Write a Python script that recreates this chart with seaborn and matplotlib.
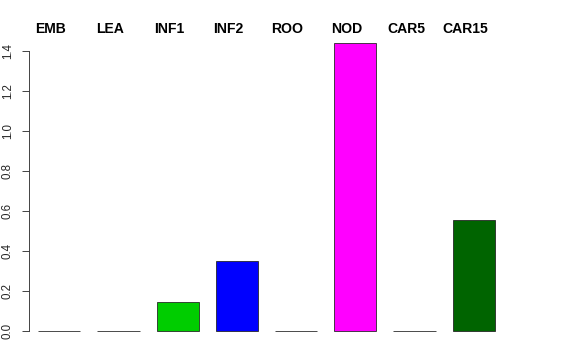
import pandas as pd
import numpy as np
import matplotlib.pyplot as plt
import matplotlib.transforms as mtransforms
import seaborn as sns

# Data
tissues = ['EMB', 'LEA', 'INF1', 'INF2', 'ROO', 'NOD', 'CAR5', 'CAR15']
values = [0.0, 0.0, 0.147, 0.352, 0.0, 1.44, 0.0, 0.555]
bar_colors = ['black', 'red', '#00CD00', 'blue', 'cyan', 'magenta', 'yellow', 'darkgreen']

df = pd.DataFrame({'tissue': tissues, 'value': values})

sns.set_style('white')
plt.rcParams['font.family'] = ['Liberation Sans', 'DejaVu Sans']

fig = plt.figure(figsize=(8, 5), dpi=72)
W, H = 576, 360
# axes in pixel terms: left 29, right 503.3, top 40, bottom 345
ax = fig.add_axes([29 / W, 1 - 345 / H, (503.3 - 29) / W, (345 - 40) / H])

sns.barplot(data=df, x='tissue', y='value', hue='tissue', palette=bar_colors,
            legend=False, width=0.71, edgecolor='#222222', linewidth=0.8,
            saturation=1, ax=ax)

ax.set_xlim(-0.512, 7.5)
ax.set_ylim(-0.07, 1.455)

# R-style axis: only left axis, spanning tick range
for s in ['top', 'right', 'bottom']:
    ax.spines[s].set_visible(False)
ax.spines['left'].set_bounds(0, 1.4)
ax.spines['left'].set_color('#333333')
ax.spines['left'].set_linewidth(0.9)
ax.set_yticks(np.arange(0, 1.41, 0.2))
ax.set_yticklabels([f'{t:.1f}' for t in np.arange(0, 1.41, 0.2)],
                   rotation=90, va='center', fontsize=11.5)
ax.tick_params(axis='y', left=True, length=7, width=0.9, pad=8, color='#333333')
ax.set_xticks([])
ax.set_xlabel('')
ax.set_ylabel('')

# tissue names along the top
trans = mtransforms.blended_transform_factory(ax.transData, fig.transFigure)
for i, name in enumerate(tissues):
    ax.text(i - 0.145, 1 - 29 / H, name, transform=trans,
            ha='center', va='center', fontsize=14, fontweight='bold',
            color='black', clip_on=False)

fig.savefig('out.png', dpi=72)
